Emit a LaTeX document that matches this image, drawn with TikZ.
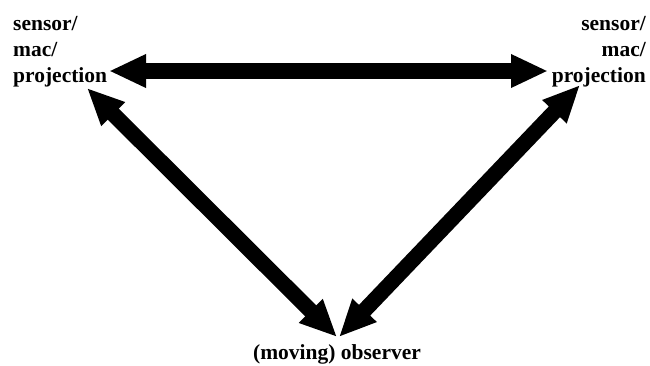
\documentclass[tikz,border=0pt]{standalone}
\usepackage{fontspec}
\setmainfont{Liberation Serif}
\usetikzlibrary{arrows.meta}
\begin{document}
\begin{tikzpicture}[x=1pt,y=-1pt,
  lbl/.style={font=\fontsize{21.5}{26}\selectfont\bfseries, inner sep=0pt},
  dbl/.style={line width=15.5pt, {Triangle[length=37pt,width=31pt]}-{Triangle[length=37pt,width=31pt]}}]
\useasboundingbox (0,0) rectangle (650,365);
\node[lbl, align=left, anchor=north west] (L) at (13,16) {sensor/\\mac/\\projection};
\node[lbl, align=right, anchor=north east] (R) at (646,16) {sensor/\\mac/\\projection};
\node[lbl, anchor=base] (B) at (337,359) {(moving) observer};
\coordinate (Lt) at (109,71);
\coordinate (Rt) at (548,71);
\coordinate (Ld) at (87,88);
\coordinate (Rd) at (580,85);
\coordinate (Bl) at (337,337);
\coordinate (Br) at (339,337);
\draw[dbl] (Lt) -- (Rt);
\draw[dbl] (Ld) -- (Bl);
\draw[dbl] (Rd) -- (Br);
\end{tikzpicture}
\end{document}
